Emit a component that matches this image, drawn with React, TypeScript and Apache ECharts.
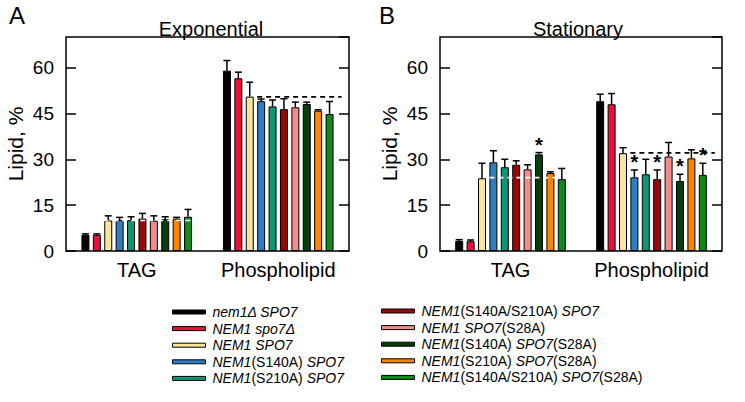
import React, { useEffect, useRef } from 'react';
import * as echarts from 'echarts';

const categories = ['TAG', 'Phospholipid'];

const strains = [
  'nem1Δ SPO7',
  'NEM1 spo7Δ',
  'NEM1 SPO7',
  'NEM1(S140A) SPO7',
  'NEM1(S210A) SPO7',
  'NEM1(S140A/S210A) SPO7',
  'NEM1 SPO7(S28A)',
  'NEM1(S140A) SPO7(S28A)',
  'NEM1(S210A) SPO7(S28A)',
  'NEM1(S140A/S210A) SPO7(S28A)',
];

const strainLabels = [
  '{i|nem1Δ SPO7}',
  '{i|NEM1 spo7Δ}',
  '{i|NEM1 SPO7}',
  '{i|NEM1}(S140A) {i|SPO7}',
  '{i|NEM1}(S210A) {i|SPO7}',
  '{i|NEM1}(S140A/S210A) {i|SPO7}',
  '{i|NEM1 SPO7}(S28A)',
  '{i|NEM1}(S140A) {i|SPO7}(S28A)',
  '{i|NEM1}(S210A) {i|SPO7}(S28A)',
  '{i|NEM1}(S140A/S210A) {i|SPO7}(S28A)',
];

const colors = ['#000000', '#E8113A', '#FCE49C', '#2E7FC2', '#0F9677', '#990808', '#F58A8A', '#073D0A', '#FF8500', '#108A1A'];

// Exponential phase
const expTag = [5.3, 5.3, 10.0, 10.1, 10.1, 10.6, 9.9, 10.4, 10.6, 11.2];
const expTagErr = [0.3, 0.3, 1.5, 0.9, 1.1, 1.7, 1.6, 0.8, 0.4, 2.4];
const expPhos = [59.0, 56.5, 50.5, 49.0, 47.3, 46.4, 47.0, 48.1, 45.9, 44.8];
const expPhosErr = [3.3, 2.0, 4.7, 0.7, 2.1, 3.4, 1.7, 0.6, 0.3, 4.1];

// Stationary phase
const staTag = [3.3, 3.2, 23.8, 29.0, 27.4, 28.2, 26.7, 31.6, 25.5, 23.5];
const staTagErr = [0.4, 0.4, 4.9, 3.8, 2.6, 1.3, 1.5, 0.6, 0.4, 3.5];
const staPhos = [49.0, 48.0, 32.0, 24.1, 25.1, 23.5, 30.9, 22.9, 30.3, 24.9];
const staPhosErr = [2.3, 3.5, 1.8, 2.4, 4.9, 3.0, 4.6, 2.2, 2.8, 3.8];

// significance stars: [category index, strain index]
const expStars: number[][] = [];
const staStars = [[0, 7], [1, 3], [1, 5], [1, 7], [1, 9]];

// dashed reference lines (wild-type level): [category index, value, first strain index, dark(1)/white(0)]
const expRefs = [[0, 10.0, 2, 0], [1, 50.4, 3, 1]];
const staRefs = [[0, 24.0, 3, 0], [1, 32.1, 3, 1]];

const yTicks = [0, 15, 30, 45, 60];

const FONT = 'Liberation Sans, Arial, Helvetica, sans-serif';
const BAR_W = 8;
const BAR_GAP = 0.425;
const PITCH = BAR_W * (1 + BAR_GAP);

function App() {
  const ref = useRef<HTMLDivElement>(null);
  useEffect(() => {
    const chart = echarts.init(ref.current!, null, { renderer: 'svg' });

    const panels = [
      { tag: expTag, tagErr: expTagErr, phos: expPhos, phosErr: expPhosErr, stars: expStars, refs: expRefs },
      { tag: staTag, tagErr: staTagErr, phos: staPhos, phosErr: staPhosErr, stars: staStars, refs: staRefs },
    ];

    const grids = [
      { left: 66, right: 396, top: 37, bottom: 151, show: true, borderColor: '#000', borderWidth: 1.5, backgroundColor: 'transparent' },
      { left: 440, right: 23, top: 37, bottom: 151, show: true, borderColor: '#000', borderWidth: 1.5, backgroundColor: 'transparent' },
    ];

    const xAxes = [0, 1].map((g) => ({
      type: 'category',
      gridIndex: g,
      data: categories,
      axisLine: { show: false },
      axisTick: { show: false },
      axisLabel: { fontSize: 20, fontFamily: FONT, color: '#000', margin: 9, interval: 0 },
    }));

    const yAxes: any[] = [];
    [0, 1].forEach((g) => {
      yAxes.push({
        type: 'value',
        gridIndex: g,
        position: 'left',
        min: 0,
        max: 70,
        interval: 15,
        name: 'Lipid, %',
        nameLocation: 'middle',
        nameGap: 40,
        nameTextStyle: { fontSize: 21, fontFamily: FONT, color: '#000' },
        axisLine: { show: false },
        axisTick: { show: true, inside: true, length: 10, lineStyle: { color: '#000', width: 1.5 } },
        axisLabel: { fontSize: 19, fontFamily: FONT, color: '#000', margin: 12, showMaxLabel: false,
          formatter: (v: number) => (yTicks.indexOf(v) >= 0 ? String(v) : '') },
        splitLine: { show: false },
      });
      yAxes.push({
        type: 'value',
        gridIndex: g,
        position: 'right',
        min: 0,
        max: 70,
        interval: 15,
        axisLine: { show: false },
        axisTick: { show: true, inside: true, length: 10, lineStyle: { color: '#000', width: 1.5 } },
        axisLabel: { show: false },
        splitLine: { show: false },
      });
    });

    const series: any[] = [];
    panels.forEach((p, g) => {
      strains.forEach((name, i) => {
        series.push({
          type: 'bar',
          name,
          xAxisIndex: g,
          yAxisIndex: g * 2,
          data: [p.tag[i], p.phos[i]],
          barWidth: BAR_W,
          barGap: `${BAR_GAP * 100}%`,
          itemStyle: { color: colors[i], borderColor: '#000', borderWidth: 1 },
          z: 2,
        });
      });
      // reference dashed lines
      series.push({
        type: 'custom',
        xAxisIndex: g,
        yAxisIndex: g * 2,
        z: 4,
        silent: true,
        data: p.refs,
        renderItem: (params: any, api: any) => {
          const c = api.value(0);
          const v = api.value(1);
          const from = api.value(2);
          const dark = api.value(3) === 1;
          const pt = api.coord([c, v]);
          const x1 = pt[0] + (from - 4.5) * PITCH - BAR_W / 2;
          const x2 = pt[0] + (9 - 4.5) * PITCH + BAR_W / 2 + (dark ? 8 : 0);
          return {
            type: 'line',
            shape: { x1, y1: pt[1], x2, y2: pt[1] },
            style: { stroke: dark ? '#000' : '#fff', lineWidth: 1.6, lineDash: [5, 4] },
          };
        },
      });
      // error bars
      const errData: number[][] = [];
      strains.forEach((_, i) => {
        errData.push([0, p.tag[i], p.tagErr[i], i]);
        errData.push([1, p.phos[i], p.phosErr[i], i]);
      });
      series.push({
        type: 'custom',
        xAxisIndex: g,
        yAxisIndex: g * 2,
        z: 5,
        silent: true,
        data: errData,
        renderItem: (params: any, api: any) => {
          const c = api.value(0);
          const m = api.value(1);
          const e = api.value(2);
          const i = api.value(3);
          const base = api.coord([c, m]);
          const top = api.coord([c, m + e]);
          const x = base[0] + (i - 4.5) * PITCH;
          return {
            type: 'group',
            children: [
              { type: 'line', shape: { x1: x, y1: base[1], x2: x, y2: top[1] }, style: { stroke: '#000', lineWidth: 1.5 } },
              { type: 'line', shape: { x1: x - 3.5, y1: top[1], x2: x + 3.5, y2: top[1] }, style: { stroke: '#000', lineWidth: 1.5 } },
            ],
          };
        },
      });
      // stars
      const starData = p.stars.map(([c, i]) => [c, c === 0 ? p.tag[i] + p.tagErr[i] : p.phos[i] + p.phosErr[i], i]);
      series.push({
        type: 'custom',
        xAxisIndex: g,
        yAxisIndex: g * 2,
        z: 6,
        silent: true,
        data: starData,
        renderItem: (params: any, api: any) => {
          const c = api.value(0);
          const t = api.value(1);
          const i = api.value(2);
          const pt = api.coord([c, t]);
          const x = pt[0] + (i - 4.5) * PITCH;
          return {
            type: 'text',
            x,
            y: pt[1] + 2,
            style: {
              text: '*',
              fontSize: 20,
              fontWeight: 'bold',
              fontFamily: FONT,
              fill: '#000',
              align: 'center',
              verticalAlign: 'bottom',
              textAlign: 'center',
              textVerticalAlign: 'bottom',
            },
          };
        },
      });
    });

    const legendBase = {
      orient: 'vertical',
      padding: 0,
      itemWidth: 33,
      itemHeight: 4,
      itemGap: 2.6,
      icon: 'rect',
      selectedMode: false,
      itemStyle: { borderColor: '#000', borderWidth: 1 },
      formatter: (name: string) => strainLabels[strains.indexOf(name)],
      textStyle: {
        fontSize: 14,
        lineHeight: 14,
        fontFamily: FONT,
        color: '#000',
        padding: [0, 0, 0, 2],
        rich: { i: { fontStyle: 'italic', fontSize: 14, lineHeight: 14, fontFamily: FONT, color: '#000' } },
      },
    };

    const textEl = (text: string, x: number, y: number, size: number, align: string) => ({
      type: 'text',
      x,
      y,
      style: {
        text,
        fontSize: size,
        fontFamily: FONT,
        fill: '#000',
        align,
        verticalAlign: 'middle',
        textAlign: align,
        textVerticalAlign: 'middle',
      },
    });

    chart.setOption({
      animation: false,
      grid: grids,
      xAxis: xAxes,
      yAxis: yAxes,
      legend: [
        { ...legendBase, left: 172, top: 305, data: strains.slice(0, 5) },
        { ...legendBase, left: 381, top: 304, data: strains.slice(5) },
      ],
      graphic: [
        textEl('A', 9, 15, 24, 'left'),
        textEl('B', 379, 15, 24, 'left'),
        textEl('Exponential', 211, 29, 20, 'center'),
        textEl('Stationary', 578, 29, 20, 'center'),
      ],
      series,
    });

    return () => chart.dispose();
  }, []);

  return <div ref={ref} style={{ position: 'fixed', left: 0, top: 0, width: 745, height: 402, background: '#fff' }} />;
}

export default App;
